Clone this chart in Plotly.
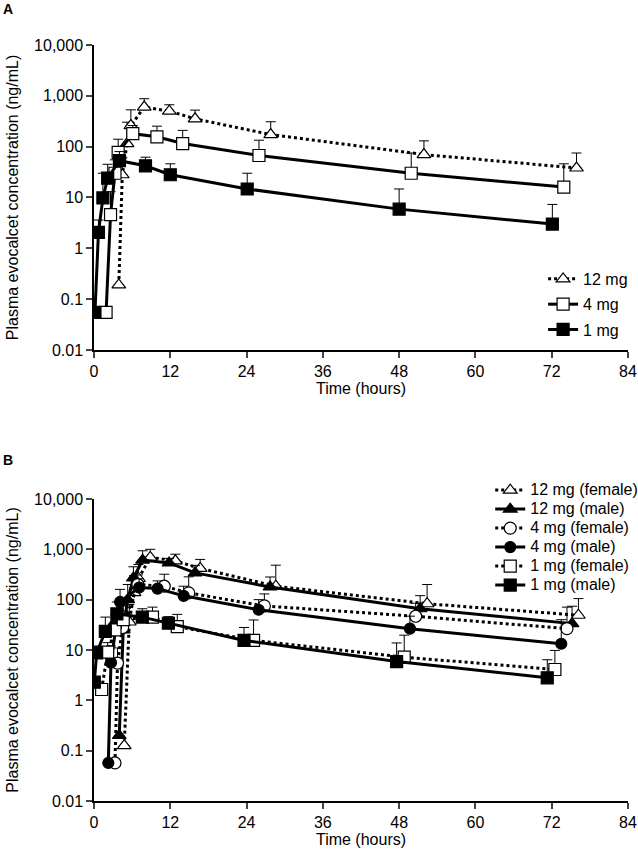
import plotly.graph_objects as go

# ---------------- Panel A data ----------------
a_labels = ["12 mg", "4 mg", "1 mg"]
a12_t = [3.9, 4.45, 5.2, 5.8, 7.9, 11.85, 15.9, 27.8, 51.9, 75.9]
a12_v = [0.19, 28, 115, 260, 600, 500, 353, 173, 70, 38]
a12_up = [0.19, 60, 303, 530, 877, 667, 523, 309, 130, 75]

a4_t = [1.9, 2.6, 3.3, 3.8, 6.1, 9.9, 13.95, 25.95, 49.9, 73.9]
a4_v = [0.055, 4.6, 30, 77, 180, 156, 115, 67, 30, 16]
a4_up = [0.055, 13, 55, 140, 260, 253, 209, 134, 75, 46]

a1_t = [0.15, 0.7, 1.4, 2.15, 4.0, 8.1, 12.0, 24.1, 48.0, 72.1]
a1_v = [0.055, 2.05, 9.8, 24, 53, 42, 28, 14.7, 5.9, 3.0]
a1_up = [0.055, 3.6, 30, 45, 80, 62, 46, 30, 14.7, 7.3]

# ---------------- Panel B data ----------------
b_labels = ["12 mg (female)", "12 mg (male)", "4 mg (female)",
            "4 mg (male)", "1 mg (female)", "1 mg (male)"]
b12f_t = [4.76, 5.55, 6.3, 7.0, 8.85, 12.8, 16.7, 28.6, 52.4, 76.2]
b12f_v = [0.126, 36, 138, 263, 692, 590, 417, 185, 83, 49]
b12f_up = [0.126, 80, 300, 500, 1000, 800, 630, 484, 200, 105]

b12m_t = [3.97, 4.6, 5.3, 6.2, 7.65, 11.8, 15.9, 27.7, 51.3, 75.2]
b12m_v = [0.2, 25, 100, 270, 610, 537, 340, 179, 66, 33.4]
b12m_up = [0.2, 50, 200, 450, 935, 660, 480, 282, 120, 74]

b4f_t = [3.3, 3.7, 4.5, 6.9, 11.05, 14.9, 26.8, 50.6, 74.4]
b4f_v = [0.057, 5.5, 28, 200, 185, 136, 75, 46.8, 26.5]
b4f_up = [0.057, 11, 60, 310, 320, 284, 130, 85, 71]

b4m_t = [2.25, 2.67, 3.45, 4.1, 7.1, 10.0, 14.1, 25.9, 49.7, 73.5]
b4m_v = [0.057, 5.6, 28.7, 90, 174, 166, 119, 63, 26.5, 13.3]
b4m_up = [0.057, 12, 60, 160, 260, 236, 185, 100, 47, 40]

b1f_t = [1.2, 2.15, 3.3, 4.6, 9.2, 13.1, 25.1, 48.8, 72.5]
b1f_v = [1.64, 9.1, 25, 40, 45, 29, 15.5, 7.2, 4.1]
b1f_up = [1.64, 14, 50, 75, 71, 51, 39.5, 19.7, 9.8]

b1m_t = [0.05, 0.42, 1.78, 3.6, 7.6, 11.7, 23.6, 47.6, 71.3]
b1m_v = [2.3, 8.8, 23.5, 52, 45, 34, 15.5, 5.9, 2.8]
b1m_up = [2.3, 12, 45, 90, 66, 46, 28, 13.8, 6.4]

y_tickvals = [0.01, 0.1, 1, 10, 100, 1000, 10000]
y_ticktext = ["0.01", "0.1", "1", "10", "100", "1,000", "10,000"]
x_tickvals = [0, 12, 24, 36, 48, 60, 72, 84]

FONT = "Arial, Liberation Sans, sans-serif"
FS = 16

fig = go.Figure()


def add(t, v, up, name, symbol, filled, dash, xa, ya, leg, size=12):
    fig.add_trace(go.Scatter(
        x=t, y=v, name=name, mode="lines+markers",
        line=dict(color="black", width=3, dash=dash),
        marker=dict(symbol=symbol, size=size,
                    color="black" if filled else "white",
                    line=dict(color="black", width=1.2)),
        error_y=dict(type="data", symmetric=False,
                     array=[u - x for u, x in zip(up, v)],
                     arrayminus=[0] * len(v),
                     color="black", thickness=1, width=5),
        xaxis=xa, yaxis=ya, legend=leg, legendgroup=name,
    ))


def big(s):
    return '<span style="font-size:%dpx">%s</span>' % (FS, s)


# Panel A
add(a12_t, a12_v, a12_up, a_labels[0], "triangle-up", False, "dot", "x", "y", "legend", 12)
add(a4_t, a4_v, a4_up, a_labels[1], "square", False, "solid", "x", "y", "legend")
add(a1_t, a1_v, a1_up, a_labels[2], "square", True, "solid", "x", "y", "legend")

# Panel B
add(b12f_t, b12f_v, b12f_up, big(b_labels[0]), "triangle-up", False, "dot", "x2", "y2", "legend2", 12)
add(b12m_t, b12m_v, b12m_up, big(b_labels[1]), "triangle-up", True, "solid", "x2", "y2", "legend2", 12)
add(b4f_t, b4f_v, b4f_up, big(b_labels[2]), "circle", False, "dot", "x2", "y2", "legend2", 12)
add(b4m_t, b4m_v, b4m_up, big(b_labels[3]), "circle", True, "solid", "x2", "y2", "legend2", 11)
add(b1f_t, b1f_v, b1f_up, big(b_labels[4]), "square", False, "dot", "x2", "y2", "legend2")
add(b1m_t, b1m_v, b1m_up, big(b_labels[5]), "square", True, "solid", "x2", "y2", "legend2")

xcommon = dict(range=[0, 84], tickvals=x_tickvals, ticks="outside", ticklen=6,
               tickwidth=1.5, showline=True, linecolor="black", linewidth=1.5,
               showgrid=False, zeroline=False, ticklabeloverflow="allow",
               tickfont=dict(family=FONT, size=FS, color="black"),
               title=dict(text="Time (hours)", font=dict(family=FONT, size=FS, color="black"),
                          standoff=4))
ycommon = dict(type="log", range=[-2, 4], tickvals=y_tickvals, ticktext=y_ticktext,
               ticks="outside", ticklen=6, tickwidth=1.5, showline=True,
               linecolor="black", linewidth=1.5, showgrid=False, zeroline=False,
               tickfont=dict(family=FONT, size=FS, color="black"),
               title=dict(text="Plasma evocalcet concentration (ng/mL)",
                          font=dict(family=FONT, size=FS, color="black"), standoff=12))

fig.update_layout(
    width=638, height=857,
    margin=dict(l=94, r=10, t=45, b=56, autoexpand=False),
    paper_bgcolor="white", plot_bgcolor="white",
    font=dict(family=FONT, size=FS, color="black"),
    xaxis=dict(domain=[0, 1], anchor="y", **xcommon),
    yaxis=dict(domain=[0.5966, 1], anchor="x", **ycommon),
    xaxis2=dict(domain=[0, 1], anchor="y2", **xcommon),
    yaxis2=dict(domain=[0, 0.3995], anchor="x2", **ycommon),
    legend=dict(x=0.841, y=0.713, xanchor="left", yanchor="top",
                bgcolor="rgba(0,0,0,0)", tracegroupgap=1.5,
                font=dict(family=FONT, size=FS, color="black")),
    legend2=dict(x=0.742, y=0.4304, xanchor="left", yanchor="top",
                 bgcolor="rgba(0,0,0,0)", tracegroupgap=0,
                 font=dict(family=FONT, size=12, color="black")),
    showlegend=True,
    annotations=[
        dict(text="<b>A</b>", xref="paper", yref="paper", x=-0.175, y=1.047,
             xanchor="left", yanchor="middle", showarrow=False,
             font=dict(family=FONT, size=14, color="black")),
        dict(text="<b>B</b>", xref="paper", yref="paper", x=-0.175, y=0.451,
             xanchor="left", yanchor="middle", showarrow=False,
             font=dict(family=FONT, size=14, color="black")),
    ],
)

fig.write_html("out.html", config={"displayModeBar": False},
               post_script="document.body.style.margin='0px';")
